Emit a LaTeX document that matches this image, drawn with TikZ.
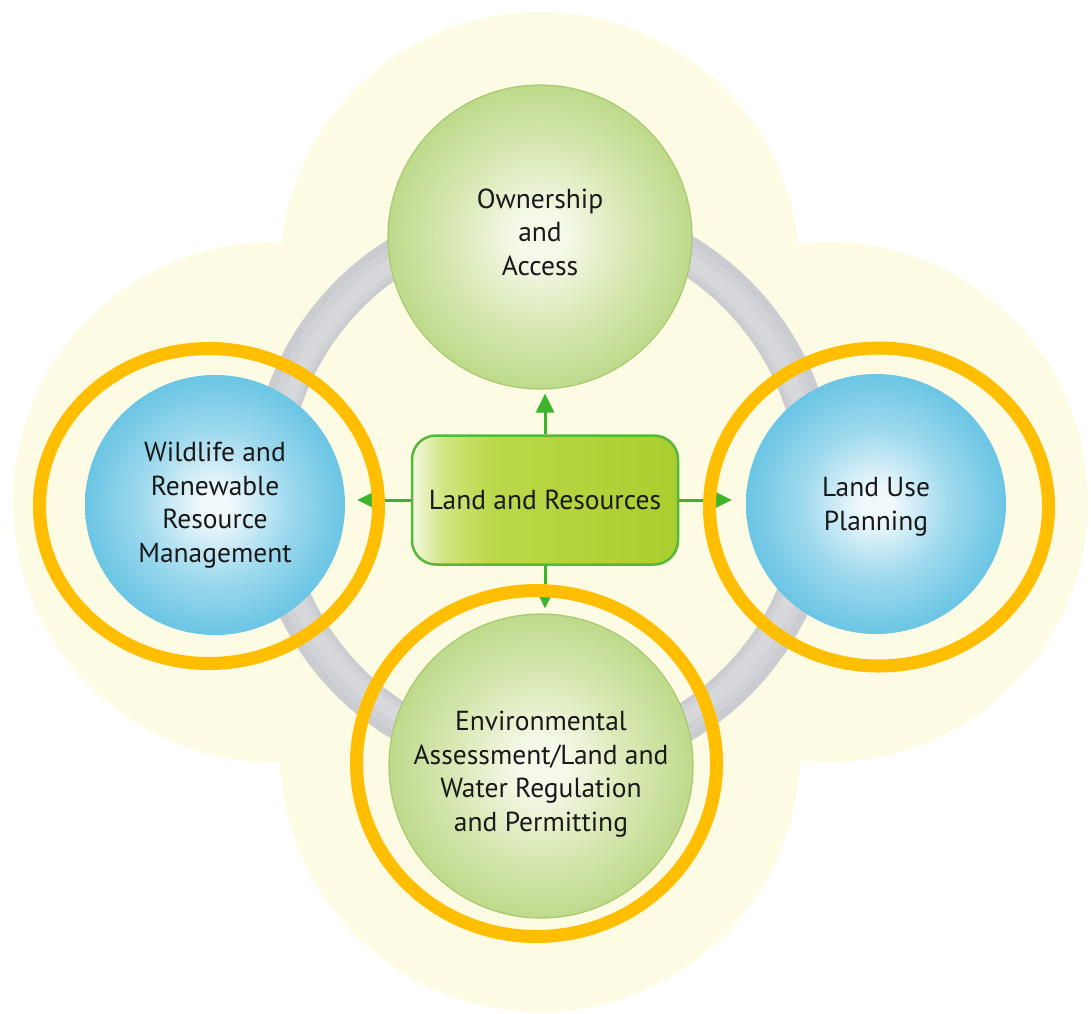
\documentclass[tikz,border=0pt]{standalone}
\usepackage{fontspec}
\setmainfont{PT Sans}
\usetikzlibrary{arrows.meta}
\definecolor{bgy}{RGB}{254,251,228}
\definecolor{ringA}{RGB}{203,204,209}
\definecolor{ringB}{RGB}{209,210,214}
\definecolor{ringC}{RGB}{215,216,220}
\definecolor{orng}{RGB}{255,190,0}
\definecolor{arrgreen}{RGB}{60,180,44}
\definecolor{g0}{RGB}{246,249,234}
\definecolor{g1}{RGB}{218,233,182}
\definecolor{g2}{RGB}{190,218,140}
\definecolor{gborder}{RGB}{166,202,108}
\definecolor{b0}{RGB}{240,249,252}
\definecolor{b1}{RGB}{160,218,238}
\definecolor{b2}{RGB}{106,197,228}
\definecolor{r0}{RGB}{244,248,224}
\definecolor{r1}{RGB}{208,229,128}
\definecolor{r2}{RGB}{186,217,74}
\definecolor{r3}{RGB}{170,206,46}
\definecolor{rborder}{RGB}{86,184,58}
\definecolor{txt}{RGB}{25,25,25}
\pgfdeclareradialshading{greenball}{\pgfpoint{0bp}{0bp}}{color(0bp)=(g0); color(4bp)=(g0); color(14bp)=(g1); color(25bp)=(g2); color(50bp)=(g2)}
\pgfdeclareradialshading{blueball}{\pgfpoint{0bp}{0bp}}{color(0bp)=(b0); color(3bp)=(b0); color(14bp)=(b1); color(25bp)=(b2); color(50bp)=(b2)}
\pgfdeclarehorizontalshading{rectgrad}{100bp}{color(0bp)=(r0); color(25bp)=(r0); color(31bp)=(r1); color(40bp)=(r2); color(75bp)=(r3); color(100bp)=(r3)}
\tikzset{
  lbl/.style={align=center, text=txt, font=\fontsize{27.5}{33.5}\selectfont},
  gball/.style={circle, inner sep=0pt, minimum size=304pt, shading=greenball, draw=gborder, line width=1.2pt},
  bball/.style={circle, inner sep=0pt, minimum size=260pt, shading=blueball},
  lrbox/.style={lbl, rounded corners=24pt, minimum width=266pt, minimum height=129pt, inner sep=0pt, shading=rectgrad, draw=rborder, line width=2.5pt},
  arr/.style={draw=arrgreen, line width=3pt, -{Triangle[length=19pt,width=18pt]}, arrgreen},
  hl/.style={draw=orng, line width=13pt},
  lobe/.style={fill=bgy},
}
\begin{document}
\begin{tikzpicture}[x=1pt,y=-1pt]
\useasboundingbox (0,0) rectangle (1091,1013);
% background cloverleaf
\fill[lobe] (540,272) circle[radius=260pt];
\fill[lobe] (273,502) circle[radius=260pt];
\fill[lobe] (828,502) circle[radius=260pt];
\fill[lobe] (540,752) circle[radius=260pt];
% gray ring
\draw[ringA, line width=38pt] (543,488) circle[radius=274pt];
\draw[ringB, line width=26pt] (543,488) circle[radius=272pt];
\draw[ringC, line width=13pt] (543,488) circle[radius=270pt];
% nodes
\node[gball, label={[lbl, yshift=5pt]center:{Ownership\\and\\Access}}] (own) at (540,237) {};
\node[gball, label={[lbl, yshift=-8pt]center:{Environmental\\Assessment/Land and\\Water Regulation\\and Permitting}}] (env) at (541,766) {};
\node[bball, label={[lbl]center:{Wildlife and\\Renewable\\Resource\\Management}}] (wild) at (215,505) {};
\node[bball, label={[lbl, yshift=-3pt]center:{Land Use\\Planning}}] (luse) at (876,504) {};
\node[lrbox] (lr) at (545,500) {Land and Resources};
% arrows
\draw[arr, shorten >=4pt] (lr.north) -- (lr.north |- own.south);
\draw[arr, shorten >=5pt] (lr.south) -- (lr.south |- env.north);
\draw[arr, shorten >=12pt] (lr.west) -- (lr.west -| wild.east);
\draw[arr, shorten >=14pt] (lr.east) -- (lr.east -| luse.west);
% highlight rings
\draw[hl] (209,506) ellipse[x radius=169.5pt, y radius=157.5pt];
\draw[hl] (879,507) ellipse[x radius=169.5pt, y radius=159pt];
\draw[hl] (536.5,763.5) ellipse[x radius=180pt, y radius=173pt];
\end{tikzpicture}
\end{document}
